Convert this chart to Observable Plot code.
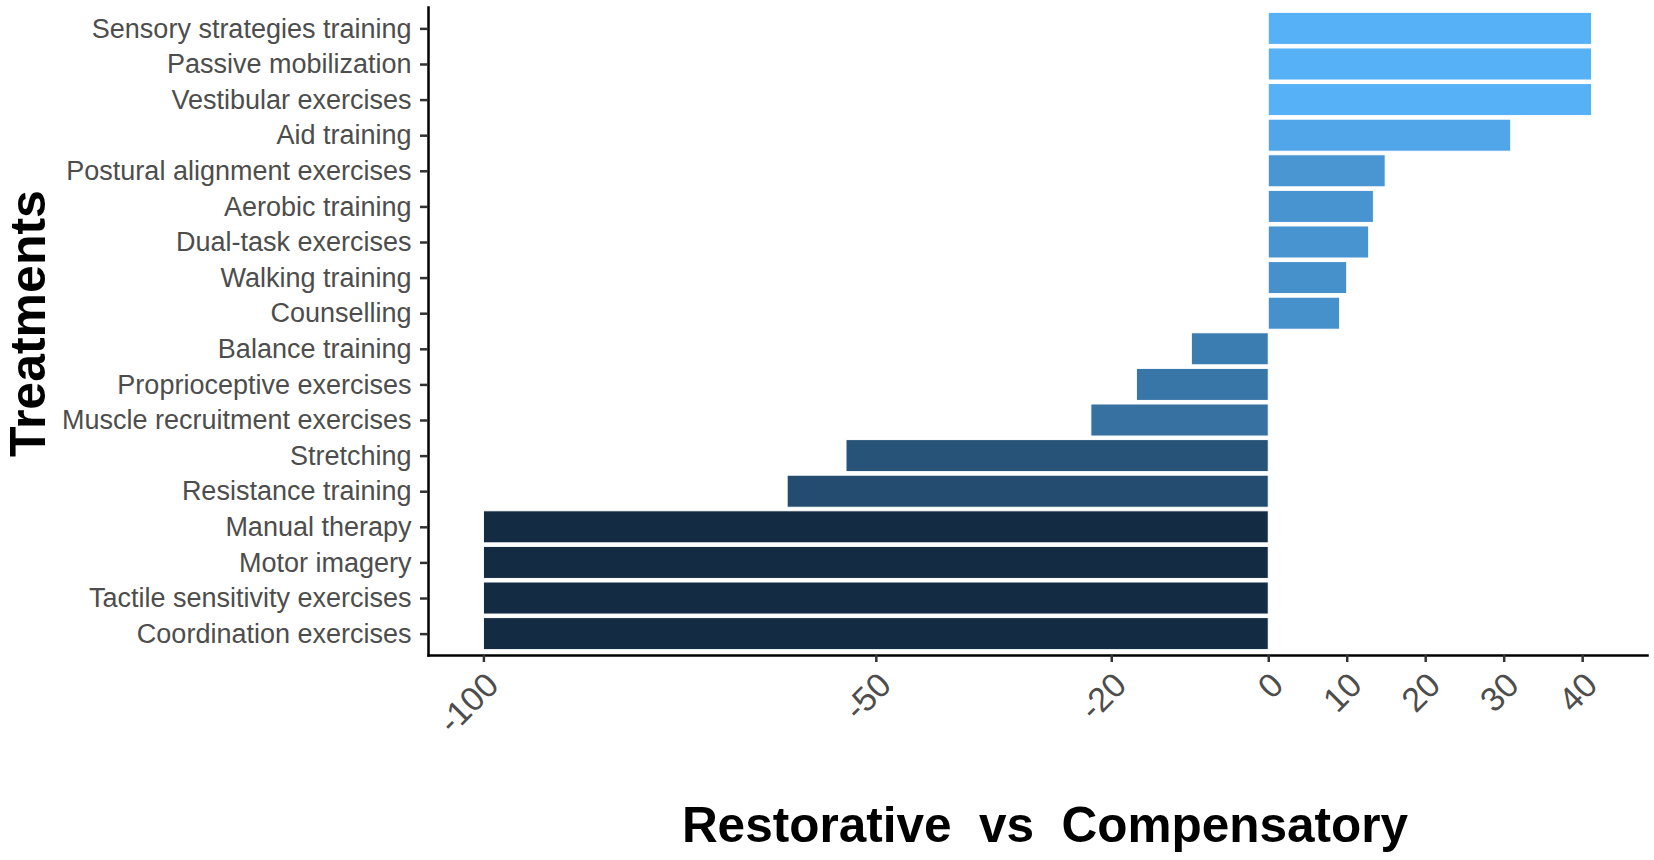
<!DOCTYPE html>
<html><head><meta charset="utf-8">
<script src="https://cdn.jsdelivr.net/npm/d3@7"></script>
<script src="https://cdn.jsdelivr.net/npm/@observablehq/plot@0.6"></script>
<style>
html,body{margin:0;padding:0;background:#fff;}
svg text{white-space:pre;}
</style></head><body><div id="chart"></div>
<script>
const treatments = [
  "Sensory strategies training",
  "Passive mobilization",
  "Vestibular exercises",
  "Aid training",
  "Postural alignment exercises",
  "Aerobic training",
  "Dual-task exercises",
  "Walking training",
  "Counselling",
  "Balance training",
  "Proprioceptive exercises",
  "Muscle recruitment exercises",
  "Stretching",
  "Resistance training",
  "Manual therapy",
  "Motor imagery",
  "Tactile sensitivity exercises",
  "Coordination exercises"
];
const values = [41.2, 41.2, 41.2, 30.9, 14.9, 13.4, 12.8, 10.0, 9.1, -9.8, -16.8, -22.6, -53.8, -61.3, -100, -100, -100, -100];
const xTicks = [-100, -50, -20, 0, 10, 20, 30, 40];
const xLabel = "Restorative  vs  Compensatory";
const yLabel = "Treatments";

const data = treatments.map((t, i) => ({treatment: t, value: values[i]}));
const lo = d3.min(values), hi = d3.max(values), pad = (hi - lo) * 0.05;

const chart = Plot.plot({
  width: 1654, height: 860,
  marginLeft: 428, marginRight: 7, marginTop: 7, marginBottom: 205,
  style: {fontFamily: "'Liberation Sans', Arial, sans-serif", background: "#fff", overflow: "visible"},
  x: {domain: [lo - pad, hi + pad]},
  y: {domain: treatments, padding: 0.1, insetTop: 1.8, insetBottom: 1.8, round: false},
  color: {type: "linear", domain: [lo, hi], range: ["#132B43", "#56B1F7"], interpolate: "lab"},
  marks: [
    Plot.barX(data, {x: "value", y: "treatment", fill: "value", stroke: "white", strokeWidth: 1}),
    Plot.frame({anchor: "left", stroke: "black", strokeWidth: 2.5}),
    Plot.frame({anchor: "bottom", stroke: "black", strokeWidth: 2.5}),
    Plot.axisY({tickSize: 8, tickPadding: 9, fontSize: 27, fill: "#4D4D4D", stroke: "#333", strokeWidth: 2.5, label: null}),
    Plot.text([yLabel], {frameAnchor: "left", rotate: -90, textAnchor: "middle", lineAnchor: "top", dx: -419, dy: -8, fontSize: 50, fontWeight: "bold", fill: "black"}),
    Plot.axisX({ticks: xTicks, tickSize: 7, tickFormat: () => "", stroke: "#333", strokeWidth: 2.5, label: null}),
    Plot.axisX({ticks: xTicks, tickSize: 0, tickPadding: 24, tickRotate: -45, textAnchor: "end", dx: 9, tickFormat: d => `${d}`, fontSize: 34, fill: "#4D4D4D", label: null}),
    Plot.text([xLabel], {frameAnchor: "bottom", textAnchor: "middle", lineAnchor: "bottom", dx: 7, dy: 186, fontSize: 49.5, fontWeight: "bold", fill: "black"})
  ]
});
document.getElementById("chart").appendChild(chart);
</script></body></html>
